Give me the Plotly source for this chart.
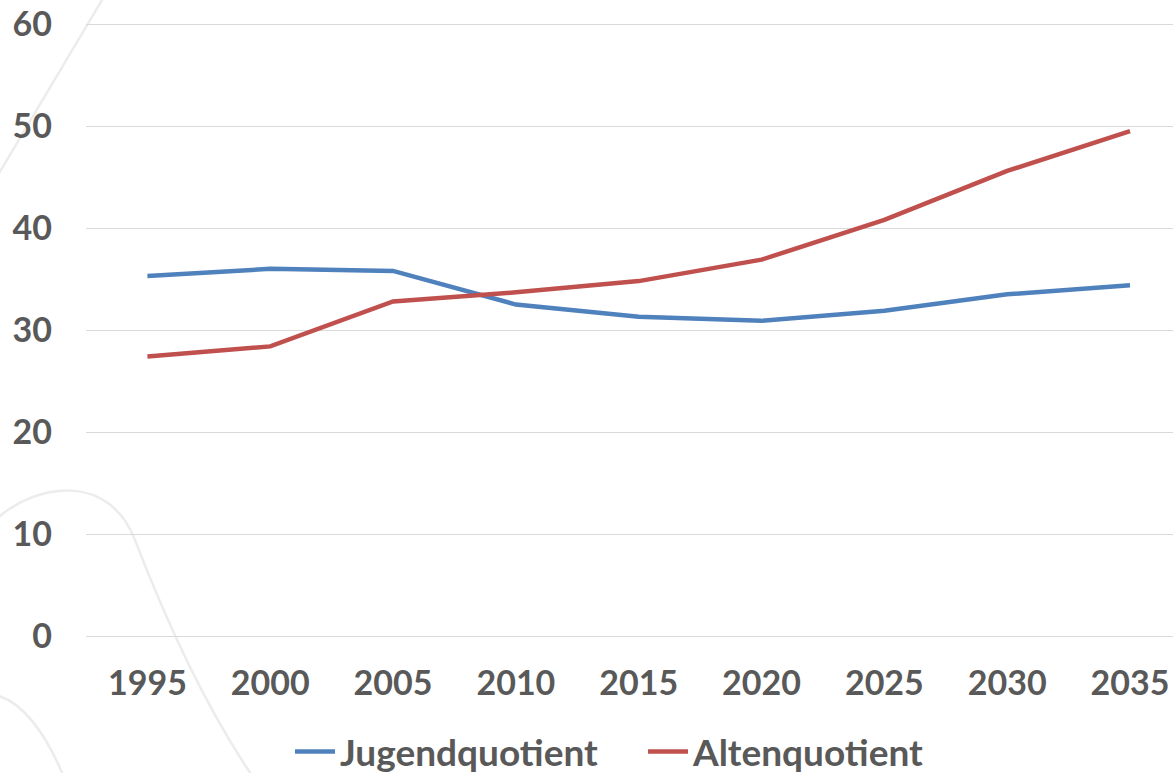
import plotly.graph_objects as go

years = ["1995", "2000", "2005", "2010", "2015", "2020", "2025", "2030", "2035"]
jugend = [35.3, 36.0, 35.8, 32.5, 31.3, 30.9, 31.9, 33.5, 34.4]
alten = [27.4, 28.4, 32.8, 33.7, 34.8, 36.9, 40.8, 45.6, 49.5]
y_ticks = [0, 10, 20, 30, 40, 50, 60]

FONT = "Lato"
TXT = "#595959"

fig = go.Figure()
fig.add_trace(go.Scatter(x=years, y=jugend, mode="lines", name="Jugendquotient",
                         line=dict(color="#4F81BD", width=4.5)))
fig.add_trace(go.Scatter(x=years, y=alten, mode="lines", name="Altenquotient",
                         line=dict(color="#C0504D", width=4.5)))

# body margin is removed below, so the figure fills the whole viewport
W, H = 1173, 773
L, R, T, B = 86, 0, 19, 137
pw, ph = W - L - R, H - T - B
OFF = 0


def px(x):
    return (x - OFF - L) / pw


def py(y):
    return (H - B - (y - OFF)) / ph


deco = "#ECECEC"
shapes = [
    dict(type="path", xref="paper", yref="paper", layer="below",
         path=f"M {px(105)},{py(-5)} L {px(-5)},{py(180)}",
         line=dict(color=deco, width=2.5)),
    dict(type="path", xref="paper", yref="paper", layer="below",
         path=(f"M {px(-5)},{py(520)} C {px(40)},{py(480)} {px(110)},{py(475)} {px(135)},{py(540)}"
               f" S {px(200)},{py(700)} {px(255)},{py(780)}"),
         line=dict(color=deco, width=2.5)),
    dict(type="path", xref="paper", yref="paper", layer="below",
         path=f"M {px(-5)},{py(695)} C {px(20)},{py(700)} {px(45)},{py(730)} {px(65)},{py(780)}",
         line=dict(color=deco, width=2.5)),
]

fig.update_layout(
    width=W, height=H,
    margin=dict(l=L, r=R, t=T, b=B, autoexpand=False),
    paper_bgcolor="white", plot_bgcolor="white",
    font=dict(family=FONT, size=34, color=TXT, weight="bold"),
    showlegend=True,
    legend=dict(orientation="h", x=px(290), xanchor="left", y=py(752), yanchor="middle",
                font=dict(family=FONT, size=37, color=TXT, weight="bold"),
                entrywidth=298, entrywidthmode="pixels",
                itemwidth=40, tracegroupgap=0, bgcolor="rgba(0,0,0,0)"),
    shapes=shapes,
    xaxis=dict(type="category", range=[-0.5, 8.35], showgrid=False, zeroline=False,
               showline=False, ticks="", ticklabelstandoff=24, ticklabeloverflow="allow",
               tickfont=dict(family=FONT, size=34, color=TXT, weight="bold")),
    yaxis=dict(range=[0, 60.5], tickvals=y_ticks, showgrid=True, gridcolor="#D9D9D9",
               gridwidth=1.3, zeroline=True, zerolinecolor="#D9D9D9", zerolinewidth=1.3,
               showline=False, ticks="", ticklabeloverflow="allow",
               ticklabelstandoff=33,
               tickfont=dict(family=FONT, size=34, color=TXT, weight="bold")),
)

fig.write_html("out.html",
               config={"displayModeBar": False},
               post_script="document.body.style.margin='0';document.body.style.overflow='hidden';")
